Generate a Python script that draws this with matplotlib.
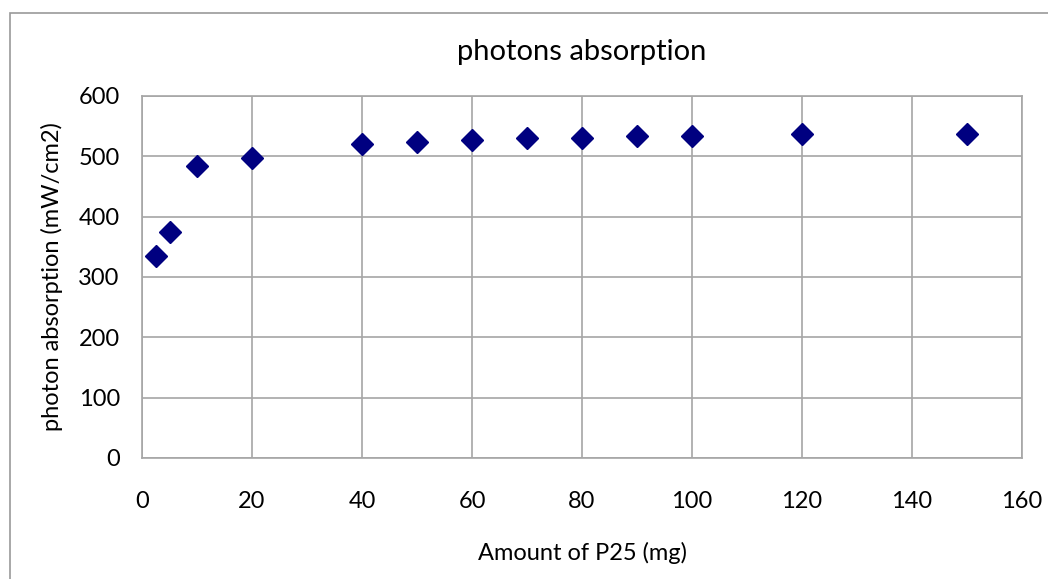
import matplotlib.pyplot as plt
from matplotlib.patches import Rectangle

# P25 amount (mg) vs photon absorption (mW/cm2)
amount = [2.5, 5, 10, 20, 40, 50, 60, 70, 80, 90, 100, 120, 150]
absorption = [335, 375, 484, 497, 521, 524, 527, 531, 531, 534, 534, 537, 537]

x_ticks = [0, 20, 40, 60, 80, 100, 120, 140, 160]
y_ticks = [0, 100, 200, 300, 400, 500, 600]

plt.rcParams['font.family'] = ['Lato', 'DejaVu Sans']

fig = plt.figure(figsize=(10.48, 5.79), dpi=100)
fig.patches.append(Rectangle((10 / 1048, -0.1), 1.2, (579 - 13) / 579 + 0.1,
                             transform=fig.transFigure, fill=False,
                             edgecolor='#999999', linewidth=1.2))

ax = fig.add_axes([142 / 1048, (579 - 458) / 579, 880 / 1048, 362 / 579])
ax.plot(amount, absorption, linestyle='none', marker='D', markersize=11,
        color='#000080', zorder=3)

ax.set_xlim(0, 160)
ax.set_ylim(0, 600)
ax.set_xticks(x_ticks)
ax.set_yticks(y_ticks)
ax.grid(True, color='#a6a6a6', linewidth=1.2)
ax.set_axisbelow(True)
for s in ax.spines.values():
    s.set_color('#a6a6a6')
    s.set_linewidth(1.2)
ax.tick_params(length=0, labelsize=17, colors='black')
ax.tick_params(axis='x', pad=24)
ax.tick_params(axis='y', pad=16)

ax.set_title('photons absorption', fontsize=21, pad=26)
ax.set_xlabel('Amount of P25 (mg)', fontsize=17, labelpad=21)
ax.set_ylabel('photon absorption (mW/cm2)', fontsize=17, labelpad=11)

fig.savefig('out.png', dpi=100)
